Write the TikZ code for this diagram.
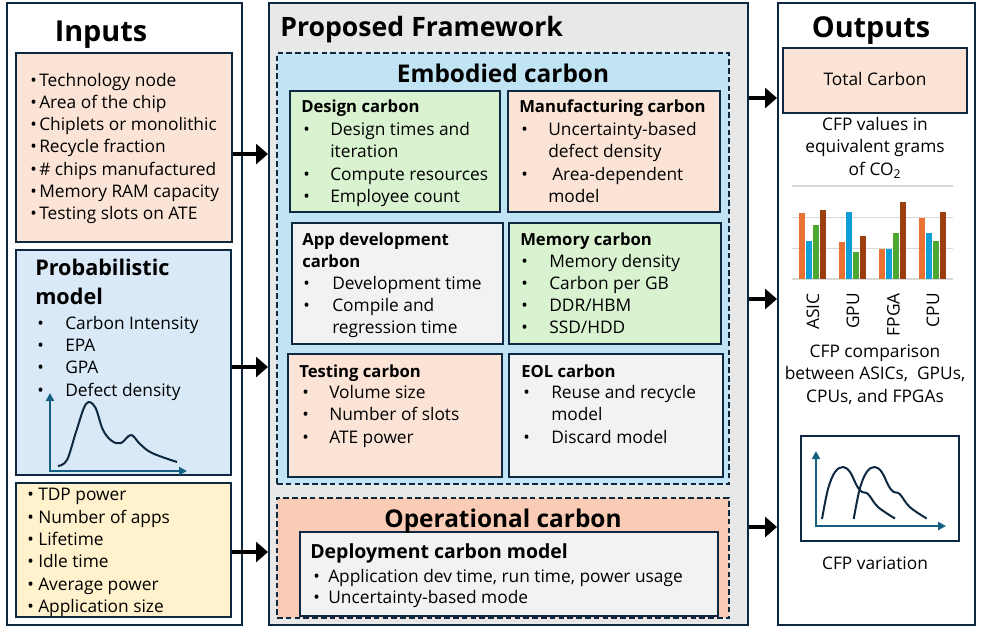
\documentclass[tikz,border=0pt]{standalone}
\usepackage{fontspec}
\setmainfont{Open Sans}
\usetikzlibrary{arrows.meta,fit}
\definecolor{navy}{HTML}{0E2841}
\definecolor{peach}{HTML}{FBE3D6}
\definecolor{probblue}{HTML}{DAE9F7}
\definecolor{embblue}{HTML}{C1E4F5}
\definecolor{lgreen}{HTML}{D9F2D0}
\definecolor{lgray}{HTML}{F2F2F2}
\definecolor{fwgray}{HTML}{E8E8E8}
\definecolor{lyellow}{HTML}{FFF2CC}
\definecolor{opfill}{HTML}{FBCCB5}
\definecolor{axisblue}{HTML}{156082}
\definecolor{cA}{HTML}{E97132}
\definecolor{cB}{HTML}{0F9ED5}
\definecolor{cC}{HTML}{4EA72E}
\definecolor{cD}{HTML}{9C3F0E}
\definecolor{gridc}{HTML}{D9D9D9}
\newcounter{tn}
\newcommand\tx[4][]{\stepcounter{tn}\node[txt,anchor=base west,#1] (t\arabic{tn}) at (#2,#3) {#4};}
\newcommand\bl[4]{\stepcounter{tn}\node[txt,anchor=base west] (b\arabic{tn}) at (#1,#3) {•};\node[txt,anchor=base west] (t\arabic{tn}) at (#2,#3) {#4};}
\tikzset{
  box/.style={draw=navy, line width=1.5pt, inner sep=0pt, rectangle},
  dbox/.style={draw=navy, line width=1.5pt, inner sep=0pt, rectangle, dash pattern=on 4.2pt off 2.4pt},
  txt/.style={inner sep=0pt, font=\fontsize{13}{15.6}\selectfont},
  ttl/.style={inner sep=0pt, font=\fontsize{12.5}{15}\selectfont\bfseries},
  head/.style={inner sep=0pt, font=\fontsize{20}{24}\selectfont\bfseries},
  bighead/.style={inner sep=0pt, font=\fontsize{21.6}{26}\selectfont\bfseries},
  sub/.style={inner sep=0pt, font=\fontsize{18.3}{22}\selectfont\bfseries},
  arr/.style={line width=2.6pt, -{Triangle[length=9pt,width=15pt]}},
  axisl/.style={draw=axisblue, line width=1.5pt},
  curvel/.style={draw=navy, line width=1.5pt, smooth, tension=0.6},
}
\begin{document}
\begin{tikzpicture}[x=0.75pt,y=-0.75pt]
\useasboundingbox[fill=white] (0,0) rectangle (984,633);
% outer columns
\node[box, fill=white, fit={(7,3) (242,625)}] (inp) {};
\node[box, fill=fwgray, fit={(269,3) (748,625)}] (fw) {};
\node[box, fill=white, fit={(778,3) (975,625)}] (outp) {};
% input boxes
\node[box, fill=peach, fit={(16,53) (232,242)}] (in1) {};
\node[box, fill=probblue, fit={(16,250) (231,475)}] (in2) {};
\node[box, fill=lyellow, fit={(16,483) (231,617)}] (in3) {};
% framework boxes
\node[dbox, fill=embblue, fit={(277,53) (729,484)}] (emb) {};
\node[box, fill=lgreen, fit={(290,91) (500,212)}] (des) {};
\node[box, fill=peach, fit={(508,91) (720,212)}] (man) {};
\node[box, fill=lgray, fit={(292,223) (503,344)}] (app) {};
\node[box, fill=lgreen, fit={(509,223) (721,344)}] (mem) {};
\node[box, fill=peach, fit={(288,354) (502,477)}] (tst) {};
\node[box, fill=lgray, fit={(509,354) (723,477)}] (eol) {};
\node[dbox, fill=opfill, fit={(277,498) (729,618)}] (op) {};
\node[box, fill=lgray, fit={(300,532) (718,616)}] (dep) {};
% output boxes
\node[box, fill=peach, fit={(783,48) (967,113)}] (tot) {};
\node[box, line width=2pt, fit={(801,436) (959,541)}] (var) {};
% headings
\node[bighead, anchor=base] (hin) at (101,41) {Inputs};
\node[head, anchor=base west] (hfw) at (280,36) {Proposed Framework};
\node[bighead, anchor=base] (hout) at (871,37) {Outputs};
\node[sub, anchor=base] (hemb) at (503,82) {Embodied carbon};
\node[sub, anchor=base] (hop) at (503,527) {Operational carbon};
% inputs list 1
\bl{30}{39}{86}{Technology node}
\bl{30}{39}{108.3}{Area of the chip}
\bl{30}{39}{130.6}{Chiplets or monolithic}
\bl{30}{39}{152.9}{Recycle fraction}
\bl{30}{39}{175.2}{\# chips manufactured}
\bl{30}{39}{197.5}{Memory RAM capacity}
\bl{30}{39}{219.8}{Testing slots on ATE}
% probabilistic
\node[inner sep=0pt, font=\fontsize{16.2}{19}\selectfont\bfseries, anchor=base west] (pt1) at (35,275) {Probabilistic};
\node[inner sep=0pt, font=\fontsize{16.2}{19}\selectfont\bfseries, anchor=base west] (pt2) at (35,304) {model};
\bl{37}{65}{329}{Carbon Intensity}
\bl{37}{65}{351}{EPA}
\bl{37}{65}{373}{GPA}
\bl{37}{65}{396}{Defect density}
\draw[axisl, {Triangle[length=6pt,width=6pt]}-{Triangle[length=6pt,width=6pt]}] (50,393) -- (50,471) -- (187,471);
\draw[curvel] plot coordinates {(58,466) (67,460) (76,432) (86,404) (95,407) (103,430) (112,441) (121,443) (131,435) (140,444) (152,453) (177,462)};
% inputs list 3
\bl{27}{38}{500}{TDP power}
\bl{27}{38}{523}{Number of apps}
\bl{27}{38}{545}{Lifetime}
\bl{27}{38}{567}{Idle time}
\bl{27}{38}{590}{Average power}
\bl{27}{38}{612}{Application size}
% design
\node[ttl, anchor=base west] (tdes) at (301,112) {Design carbon};
\bl{303}{330}{135}{Design times and}
\tx{330}{157}{iteration}
\bl{303}{330}{180}{Compute resources}
\bl{303}{330}{202}{Employee count}
% manufacturing
\node[ttl, anchor=base west] (tman) at (519,112) {Manufacturing carbon};
\bl{521}{548}{135}{Uncertainty-based}
\tx{548}{157}{defect density}
\bl{521}{552}{180}{Area-dependent}
\tx{548}{202}{model}
% app dev
\node[ttl, anchor=base west] (tapp1) at (302,245) {App development};
\node[ttl, anchor=base west] (tapp2) at (302,267) {carbon};
\bl{303}{332}{289}{Development time}
\bl{303}{332}{311}{Compile and}
\tx{332}{333}{regression time}
% memory
\node[ttl, anchor=base west] (tmem) at (520,245) {Memory carbon};
\bl{521}{549}{267}{Memory density}
\bl{521}{549}{289}{Carbon per GB}
\bl{521}{549}{311}{DDR/HBM}
\bl{521}{549}{333}{SSD/HDD}
% testing
\node[ttl, anchor=base west] (ttst) at (299,377) {Testing carbon};
\bl{302}{329}{398}{Volume size}
\bl{302}{329}{420}{Number of slots}
\bl{302}{329}{443}{ATE power}
% eol
\node[ttl, anchor=base west] (teol) at (521,377) {EOL carbon};
\bl{523}{551}{398}{Reuse and recycle}
\tx{551}{420}{model}
\bl{523}{551}{443}{Discard model}
% deployment
\node[inner sep=0pt, font=\fontsize{14.6}{17}\selectfont\bfseries, anchor=base west] (tdep) at (310,558) {Deployment carbon model};
\bl{313}{328}{582}{Application dev time, run time, power usage}
\bl{313}{328}{603}{Uncertainty-based mode}
% outputs text
\node[txt, anchor=base] (ttot) at (875,85) {Total Carbon};
\node[txt, anchor=base] (o1) at (875,130) {CFP values in};
\node[txt, anchor=base] (o2) at (875,152) {equivalent grams};
\node[txt, anchor=base] (o3) at (875,175) {of CO\textsubscript{2}};
% bar chart
\foreach \yy in {186,217.3,248.3,279} \draw[gridc, line width=0.8pt] (792,\yy) -- (953,\yy);
\foreach \gx/\ha/\hb/\hc/\hd in {799/212.7/241/225/210, 839/242/212/252/236, 879/249/249/233/202, 919/218/233/241/212} {
  \fill[cA] (\gx,279) rectangle ++(6,\ha-279);
  \fill[cB] (\gx+7,279) rectangle ++(6,\hb-279);
  \fill[cC] (\gx+14.3,279) rectangle ++(6,\hc-279);
  \fill[cD] (\gx+21.3,279) rectangle ++(6,\hd-279);
}
\node[txt, rotate=90, anchor=east] (lasic) at (813,293) {ASIC};
\node[txt, rotate=90, anchor=east] (lgpu) at (853,293) {GPU};
\node[txt, rotate=90, anchor=east] (lfpga) at (893.5,293) {FPGA};
\node[txt, rotate=90, anchor=east] (lcpu) at (933,293) {CPU};
\node[txt, anchor=base] (c1) at (875,357) {CFP comparison};
\node[txt, anchor=base] (c2) at (875,379) {between ASICs,\ \ GPUs,};
\node[txt, anchor=base] (c3) at (875,402) {CPUs, and FPGAs};
% variation plot
\draw[axisl, {Triangle[length=6pt,width=6pt]}-{Triangle[length=6pt,width=6pt]}] (816,451) -- (816,526) -- (946,526);
\draw[curvel] plot coordinates {(822,519) (828,489) (835,472) (843,467) (850,472) (857,486) (862,492) (868,494) (878,507) (895,518.5)};
\begin{scope}[shift={(31.7,0)}]
\draw[curvel] plot coordinates {(822,519) (828,489) (835,472) (843,467) (850,472) (857,486) (862,492) (868,494) (878,507) (895,518.5)};
\end{scope}
\node[txt, anchor=base] (cv) at (875,569) {CFP variation};
% arrows
\draw[arr] (in1.east |- 0,154) -- (fw.west |- 0,154);
\draw[arr] (in2.east |- 0,367) -- (fw.west |- 0,367);
\draw[arr] (in3.east |- 0,552) -- (fw.west |- 0,552);
\draw[arr] (fw.east |- 0,98) -- (outp.west |- 0,98);
\draw[arr] (fw.east |- 0,299) -- (outp.west |- 0,299);
\draw[arr] (fw.east |- 0,527) -- (outp.west |- 0,527);
\end{tikzpicture}
\end{document}
